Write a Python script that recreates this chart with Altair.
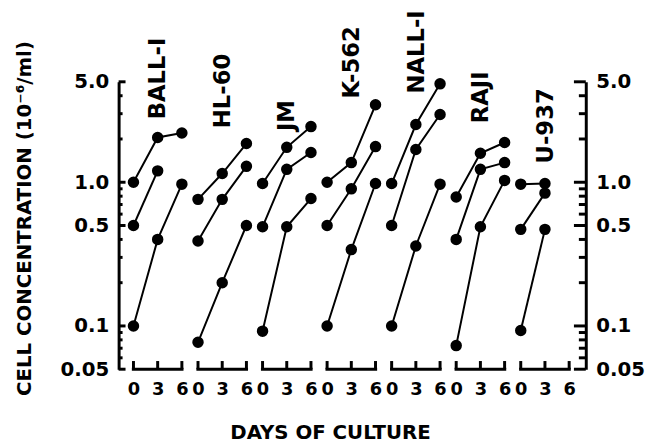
import altair as alt
import pandas as pd

# ---------------- data ----------------
cell_lines = ["BALL-I", "HL-60", "JM", "K-562", "NALL-I", "RAJI", "U-937"]
days = [0, 3, 6]
high_series = [
    [1.0, 2.05, 2.2],
    [0.76, 1.15, 1.86],
    [0.98, 1.75, 2.44],
    [1.0, 1.37, 3.46],
    [0.98, 2.52, 4.84],
    [0.79, 1.59, 1.89],
    [0.97, 0.98, None],
]
mid_series = [
    [0.5, 1.2, None],
    [0.39, 0.76, 1.29],
    [0.49, 1.23, 1.61],
    [0.5, 0.90, 1.77],
    [0.5, 1.69, 2.96],
    [0.40, 1.23, 1.37],
    [0.47, 0.84, None],
]
low_series = [
    [0.1, 0.4, 0.97],
    [0.077, 0.20, 0.50],
    [0.092, 0.49, 0.77],
    [0.1, 0.34, 0.98],
    [0.1, 0.36, 0.97],
    [0.073, 0.49, 1.03],
    [0.093, 0.47, None],
]
# concentration level at which each vertical cell-line name starts
label_start = [2.74, 2.38, 2.27, 3.82, 4.14, 2.57, 1.35]
y_major = [0.05, 0.1, 0.5, 1.0, 5.0]
y_minor = [0.06, 0.07, 0.08, 0.09, 0.2, 0.3, 0.4, 0.6, 0.7, 0.8, 0.9, 2.0, 3.0, 4.0]

# ---------------- layout helpers ----------------
GROUP = 8            # x units between groups (days 0..6 inside each)
X0, X1 = -1.84, 56.06
W, H = 473, 291
PX = W / (X1 - X0)   # pixels per x unit
FONT = "DejaVu Sans"

rows = []
for g, name in enumerate(cell_lines):
    for sname, series in (("high", high_series), ("mid", mid_series), ("low", low_series)):
        for d, v in zip(days, series[g]):
            if v is None:
                continue
            rows.append({"x": g * GROUP + d, "y": v, "key": f"{name}-{sname}"})
df = pd.DataFrame(rows)

labels_df = pd.DataFrame({
    "x": [g * GROUP + 3.1 for g in range(len(cell_lines))],
    "y": label_start,
    "label": cell_lines,
})

bracket_df = pd.DataFrame({
    "x": [g * GROUP - 0.2 for g in range(len(cell_lines))],
    "x2": [g * GROUP + 6.2 for g in range(len(cell_lines))],
    "y": [0.05] * len(cell_lines),
})
btick_df = pd.DataFrame({
    "x": [g * GROUP + d for g in range(len(cell_lines)) for d in days],
    "y": [0.05] * (len(cell_lines) * len(days)),
    "y2": [0.057] * (len(cell_lines) * len(days)),
})

# inward axis ticks: centre of each tick in x units, length in px
def tick_rows(vals, edge, length, direction):
    return [{"x": edge + direction * (length / 2) / PX, "y": v, "len": length} for v in vals]

axis_ticks_df = pd.DataFrame(
    tick_rows(y_major, X0, 7, 1) + tick_rows(y_minor, X0, 4, 1)
    + tick_rows(y_major, X1, 12, -1) + tick_rows(y_minor, X1, 7, -1)
)

x_tick_values = [g * GROUP + d for g in range(len(cell_lines)) for d in days]

xscale = alt.Scale(domain=[X0, X1], nice=False, zero=False)
yscale = alt.Scale(type="log", domain=[0.05, 5.0], nice=False)

label_expr = ("datum.value >= 4 ? '5.0' : datum.value >= 0.9 ? '1.0' : "
              "datum.value >= 0.4 ? '0.5' : datum.value >= 0.09 ? '0.1' : '0.05'")

x_axis = alt.Axis(
    values=x_tick_values, labelExpr="'' + (datum.value % 8)",
    domain=False, ticks=False, grid=False, labelPadding=12,
    labelFont=FONT, labelFontSize=18, labelFontWeight="bold", labelColor="black",
    title="DAYS OF CULTURE", titleFont=FONT, titleFontSize=20, titleFontWeight="bold",
    titleColor="black", titleX=214, titleY=54, titleBaseline="top", titleAlign="center",
)
y_axis_left = alt.Axis(
    values=y_major, labelExpr=label_expr, ticks=False, grid=False,
    domainColor="black", domainWidth=3, labelPadding=10,
    labelFont=FONT, labelFontSize=20, labelFontWeight="bold", labelColor="black",
    title="CELL CONCENTRATION (10⁻⁶/ml)", titleFont=FONT, titleFontSize=20,
    titleFontWeight="bold", titleColor="black", titleAngle=270,
    titleX=-95, titleY=138, titleAlign="center", titleBaseline="middle",
)
y_axis_right = alt.Axis(
    orient="right", values=y_major, labelExpr=label_expr, ticks=False, grid=False,
    domainColor="black", domainWidth=3, labelPadding=10,
    labelFont=FONT, labelFontSize=20, labelFontWeight="bold", labelColor="black",
    title=None,
)

X = alt.X("x:Q", scale=xscale, axis=x_axis, title="DAYS OF CULTURE")
Y = alt.Y("y:Q", scale=yscale, axis=y_axis_left, title="CELL CONCENTRATION (10⁻⁶/ml)")

lines = alt.Chart(df).mark_line(color="black", strokeWidth=2).encode(
    x=X, y=Y, detail="key:N", order="x:Q")
points = alt.Chart(df).mark_circle(color="black", opacity=1, size=135).encode(x=X, y=Y)
names = alt.Chart(labels_df).mark_text(
    angle=270, align="left", baseline="middle", font=FONT, fontSize=23,
    fontWeight="bold", color="black").encode(x=X, y=Y, text="label:N")
brackets = alt.Chart(bracket_df).mark_rule(color="black", strokeWidth=3).encode(
    x=X, x2="x2:Q", y=Y)
bticks = alt.Chart(btick_df).mark_rule(color="black", strokeWidth=3).encode(
    x=X, y=Y, y2="y2:Q")
aticks = alt.Chart(axis_ticks_df).mark_tick(
    color="black", orient="horizontal", thickness=3, opacity=1).encode(
    x=X, y=Y, size=alt.Size("len:Q", scale=None, legend=None))

main = alt.layer(brackets, bticks, aticks, lines, points, names)

right = alt.Chart(pd.DataFrame({"y": [0.05, 5.0]})).mark_point(opacity=0).encode(
    y=alt.Y("y:Q", scale=yscale, axis=y_axis_right))

chart = alt.layer(main, right).resolve_scale(y="independent").properties(
    width=W, height=H,
    autosize=alt.AutoSizeParams(type="none"),
    padding={"left": 112, "top": 72, "right": 63, "bottom": 73},
).configure(background="white").configure_view(stroke=None)

chart.save("out.html", embed_options={"renderer": "svg", "actions": False})
